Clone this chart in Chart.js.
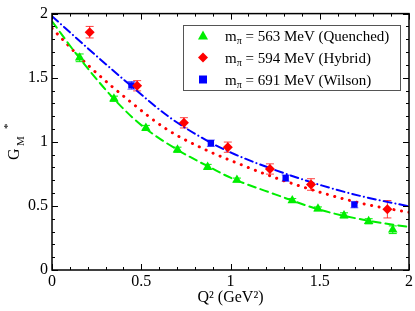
<!DOCTYPE html>
<html>
<head>
<meta charset="utf-8">
<style>
  html, body { margin: 0; padding: 0; background: #fff; }
  #wrap { width: 415px; height: 311px; }
</style>
</head>
<body>
<div id="wrap"><canvas id="myChart" width="415" height="311"></canvas></div>

<script src="https://cdn.jsdelivr.net/npm/chart.js"></script>

<script>
  // lattice points (Q^2 in GeV^2, G_M*) and their errors
  const quenchedQ2  = [0.155, 0.347, 0.526, 0.703, 0.872, 1.036, 1.346, 1.49, 1.636, 1.774, 1.909];
  const quenchedG   = [1.655, 1.336, 1.108, 0.938, 0.804, 0.702, 0.542, 0.477, 0.426, 0.380, 0.314];
  const quenchedErr = [0.03, 0.02, 0.02, 0.02, 0.02, 0.015, 0.015, 0.015, 0.02, 0.02, 0.03];

  const hybridQ2  = [0.211, 0.477, 0.739, 0.985, 1.221, 1.451, 1.879];
  const hybridG   = [1.855, 1.437, 1.148, 0.958, 0.788, 0.667, 0.474];
  const hybridErr = [0.045, 0.04, 0.04, 0.04, 0.04, 0.045, 0.068];

  const wilsonQ2  = [0.445, 0.890, 1.309, 1.694];
  const wilsonG   = [1.440, 0.989, 0.717, 0.510];
  const wilsonErr = [0.03, 0.025, 0.025, 0.025];

  // fit curves
  const fitQuenchedQ2 = [0, 0.15, 0.35, 0.5, 0.7, 0.9, 1.0, 1.25, 1.5, 1.75, 2.0];
  const fitQuenchedG  = [1.94, 1.66, 1.33, 1.13, 0.94, 0.79, 0.72, 0.59, 0.47, 0.39, 0.335];
  const fitHybridQ2 = [0, 0.2, 0.45, 0.64, 0.88, 1.0, 1.25, 1.53, 1.75, 2.0];
  const fitHybridG  = [1.885, 1.60, 1.30, 1.10, 0.925, 0.855, 0.72, 0.595, 0.515, 0.45];
  const fitWilsonQ2 = [0, 0.2, 0.44, 0.66, 0.88, 1.02, 1.25, 1.51, 1.75, 2.0];
  const fitWilsonG  = [1.98, 1.73, 1.44, 1.19, 1.0, 0.905, 0.78, 0.66, 0.57, 0.497];

  const xTicks = [0, 0.5, 1, 1.5, 2];
  const yTicks = [0, 0.5, 1, 1.5, 2];

  const legendLabels = ['563 MeV (Quenched)', '594 MeV (Hybrid)', '691 MeV (Wilson)'];

  const GREEN = '#00ee00', RED = '#ff0000', BLUE = '#0000ff';
  const SERIF = '"Liberation Serif", "DejaVu Serif", serif';

  const pts = (xs, ys) => xs.map((x, i) => ({ x: x, y: ys[i] }));

  // error bars, drawn under the markers
  const errorBars = {
    id: 'errorBars',
    beforeDatasetsDraw(chart) {
      const { ctx, scales: { x, y } } = chart;
      chart.data.datasets.forEach((ds, di) => {
        if (!ds.errors) return;
        ctx.save();
        ctx.strokeStyle = ds.errColor;
        ctx.lineWidth = 1;
        ds.data.forEach((p, i) => {
          const px = x.getPixelForValue(p.x);
          const y1 = y.getPixelForValue(p.y + ds.errors[i]);
          const y2 = y.getPixelForValue(p.y - ds.errors[i]);
          ctx.beginPath();
          ctx.moveTo(px, y1); ctx.lineTo(px, y2);
          ctx.moveTo(px - 4, y1); ctx.lineTo(px + 4, y1);
          ctx.moveTo(px - 4, y2); ctx.lineTo(px + 4, y2);
          ctx.stroke();
        });
        ctx.restore();
      });
    }
  };

  // frame, inward ticks on all sides, y title and the boxed legend
  const frame = {
    id: 'frame',
    afterDraw(chart) {
      const { ctx, chartArea: a, scales: { x, y } } = chart;
      ctx.save();
      ctx.strokeStyle = '#000';
      ctx.lineWidth = 1;
      ctx.beginPath();
      for (let i = 0; i <= 20; i++) {
        const v = i / 10;
        const len = (i % 5 === 0) ? 6 : 3;
        const px = Math.round(x.getPixelForValue(v)) + 0.5;
        ctx.moveTo(px, a.bottom); ctx.lineTo(px, a.bottom - len);
        ctx.moveTo(px, a.top); ctx.lineTo(px, a.top + len);
        const py = Math.round(y.getPixelForValue(v)) + 0.5;
        ctx.moveTo(a.left, py); ctx.lineTo(a.left + len, py);
        ctx.moveTo(a.right, py); ctx.lineTo(a.right - len, py);
      }
      ctx.stroke();
      ctx.lineWidth = 1.5;
      ctx.strokeRect(a.left, a.top, a.right - a.left, a.bottom - a.top);

      // y title: G_M^*
      ctx.fillStyle = '#000';
      ctx.translate(19, 160);
      ctx.rotate(-Math.PI / 2);
      ctx.textBaseline = 'alphabetic';
      ctx.font = '16px ' + SERIF;
      ctx.fillText('G', 0, 0);
      ctx.font = '11px ' + SERIF;
      ctx.fillText('M', 14, 5);
      ctx.fillText('*', 31, -8);
      ctx.setTransform(1, 0, 0, 1, 0, 0);

      // legend
      const bx = 183.5, by = 25.5, bw = 217, bh = 65;
      ctx.fillStyle = '#fff';
      ctx.fillRect(bx, by, bw, bh);
      ctx.strokeStyle = '#555';
      ctx.lineWidth = 1;
      ctx.strokeRect(bx, by, bw, bh);
      const rows = [35.5, 57.5, 79.5];
      const legSets = [0, 1, 2].map(i => chart.data.datasets[i]);
      legSets.forEach((ds, i) => {
        const cy = rows[i];
        ctx.fillStyle = ds.backgroundColor;
        ctx.beginPath();
        if (i === 0) {
          ctx.moveTo(203, cy - 5); ctx.lineTo(208, cy + 4); ctx.lineTo(198, cy + 4);
        } else if (i === 1) {
          ctx.moveTo(203, cy - 5); ctx.lineTo(208, cy); ctx.lineTo(203, cy + 5); ctx.lineTo(198, cy);
        } else {
          ctx.rect(199, cy - 4, 8, 8);
        }
        ctx.closePath();
        ctx.fill();
        ctx.fillStyle = '#000';
        ctx.textBaseline = 'alphabetic';
        ctx.font = '15px ' + SERIF;
        const base = cy + 5;
        ctx.fillText('m', 225, base);
        const mw = ctx.measureText('m').width;
        ctx.font = '10px ' + SERIF;
        ctx.fillText('\u03c0', 225 + mw, base + 3);
        const pw = ctx.measureText('\u03c0').width;
        ctx.font = '15px ' + SERIF;
        ctx.fillText(' = ' + legendLabels[i], 225 + mw + pw, base);
      });
      ctx.restore();
    }
  };

  const lineStyle = (color, dash, width) => ({
    type: 'line', borderColor: color, borderWidth: width, borderDash: dash,
    pointRadius: 0, fill: false, cubicInterpolationMode: 'monotone', order: 2
  });

  new Chart(document.getElementById('myChart'), {
    type: 'scatter',
    data: {
      datasets: [
        { label: 'Quenched', data: pts(quenchedQ2, quenchedG), errors: quenchedErr, errColor: GREEN,
          pointStyle: 'triangle', pointRadius: 5.5, backgroundColor: GREEN, borderColor: GREEN, borderWidth: 0, order: 1 },
        { label: 'Hybrid', data: pts(hybridQ2, hybridG), errors: hybridErr, errColor: 'rgba(255,0,0,0.75)',
          pointStyle: 'rectRot', pointRadius: 5, backgroundColor: RED, borderColor: RED, borderWidth: 0, order: 1 },
        { label: 'Wilson', data: pts(wilsonQ2, wilsonG), errors: wilsonErr, errColor: 'rgba(0,0,255,0.6)',
          pointStyle: 'rect', pointRadius: 4.5, backgroundColor: BLUE, borderColor: BLUE, borderWidth: 0, order: 1 },
        Object.assign({ label: 'fitQ', data: pts(fitQuenchedQ2, fitQuenchedG) }, lineStyle(GREEN, [8, 5], 2)),
        Object.assign({ label: 'fitH', data: pts(fitHybridQ2, fitHybridG) }, lineStyle(RED, [0.1, 7.5], 3)),
        Object.assign({ label: 'fitW', data: pts(fitWilsonQ2, fitWilsonG) }, lineStyle(BLUE, [8, 4, 0.1, 4], 2))
      ]
    },
    options: {
      responsive: false,
      animation: false,
      layout: { padding: { top: 7, right: 6, left: 0, bottom: 0 } },
      plugins: { legend: { display: false }, tooltip: { enabled: false } },
      datasets: { line: { borderCapStyle: 'round' } },
      scales: {
        x: {
          type: 'linear', min: 0, max: 2,
          grid: { display: false, drawTicks: false },
          border: { display: false },
          afterBuildTicks: s => { s.ticks = xTicks.map(v => ({ value: v })); },
          afterFit: s => { s.height = 41; },
          ticks: { color: '#000', padding: 2, maxRotation: 0, font: { family: SERIF, size: 16 },
                   callback: v => String(v) },
          title: { display: true, text: 'Q\u00b2 (GeV\u00b2)', color: '#000', padding: { top: 0, bottom: 4 },
                   font: { family: SERIF, size: 16 } }
        },
        y: {
          type: 'linear', min: 0, max: 2,
          grid: { display: false, drawTicks: false },
          border: { display: false },
          afterBuildTicks: s => { s.ticks = yTicks.map(v => ({ value: v })); },
          afterFit: s => { s.width = 52; },
          ticks: { color: '#000', padding: 4, font: { family: SERIF, size: 16 },
                   callback: v => String(v) }
        }
      }
    },
    plugins: [errorBars, frame]
  });
</script>
</body>
</html>
